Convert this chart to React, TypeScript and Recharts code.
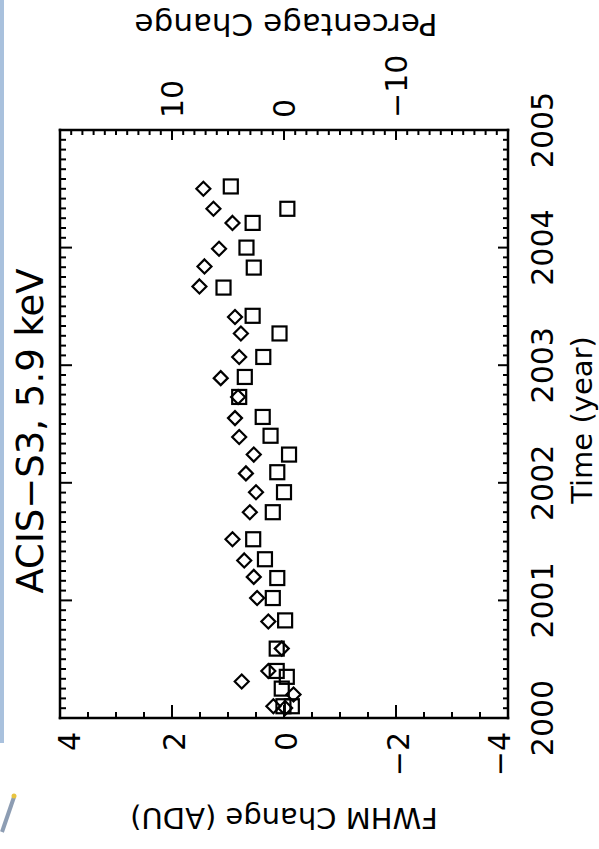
import { ScatterChart, Scatter, XAxis, YAxis } from "recharts";

// diamonds (first series)
const diamondTime = [
  2004.5, 2004.33, 2004.21, 2003.99, 2003.84, 2003.67, 2003.41, 2003.27, 2003.07,
  2002.89, 2002.73, 2002.55, 2002.39, 2002.24, 2002.08, 2001.92, 2001.75, 2001.52,
  2001.34, 2001.2, 2001.02, 2000.82, 2000.59, 2000.4, 2000.31, 2000.2, 2000.1, 2000.085,
];
const diamondFwhm = [
  1.44, 1.26, 0.92, 1.16, 1.42, 1.51, 0.875, 0.77, 0.8,
  1.13, 0.82, 0.875, 0.8, 0.54, 0.68, 0.5, 0.61, 0.92,
  0.71, 0.54, 0.48, 0.28, 0.04, 0.28, 0.755, -0.17, 0.19, -0.02,
];

// squares (second series)
const squareTime = [
  2004.52, 2004.33, 2004.21, 2004.0, 2003.83, 2003.66, 2003.42, 2003.27, 2003.07,
  2002.9, 2002.73, 2002.56, 2002.4, 2002.24, 2002.09, 2001.92, 2001.75, 2001.52,
  2001.35, 2001.19, 2001.02, 2000.83, 2000.59, 2000.4, 2000.35, 2000.25, 2000.1, 2000.1,
];
const squareFwhm = [
  0.95, -0.06, 0.56, 0.67, 0.54, 1.08, 0.56, 0.08, 0.37,
  0.7, 0.8, 0.38, 0.24, -0.09, 0.12, 0.0, 0.2, 0.55,
  0.34, 0.12, 0.2, -0.02, 0.13, 0.13, -0.05, 0.04, 0.01, -0.14,
];

const fwhmTicks = [-4, -3.5, -3, -2.5, -2, -1.5, -1, -0.5, 0, 0.5, 1, 1.5, 2, 2.5, 3, 3.5, 4];
const fwhmLabels = [-4, -2, 0, 2, 4];
const pctTicks = Array.from({ length: 41 }, (_, i) => i - 20);
const pctMajor = [-20, -10, 0, 10, 20];
const pctLabels = [-10, 0, 10];
const yearLabels = [2000, 2001, 2002, 2003, 2004, 2005];
const yearTicks = Array.from({ length: 61 }, (_, i) => 2000 + i / 12);

const W = 599;
const H = 849;
const LEFT_W = 60;
const RIGHT_W = 91;
const TOP_H = 130;
const BOTTOM_H = 131;
const PLOT_L = LEFT_W;
const PLOT_R = W - RIGHT_W;
const PLOT_T = TOP_H;
const PLOT_B = H - BOTTOM_H;

const FONT = "'DejaVu Sans', sans-serif";
const INK = "#000";

const near = (v: number, list: number[]) => list.some((l) => Math.abs(l - v) < 1e-6);
const fmt = (v: number) => (v < 0 ? "\u2212" + Math.abs(v) : String(v));

const diamonds = diamondTime.map((t, i) => ({ t, f: diamondFwhm[i] }));
const squares = squareTime.map((t, i) => ({ t, f: squareFwhm[i] }));

function FwhmTick({ x, y, payload }: any) {
  const v = payload.value;
  const major = near(v, fwhmLabels);
  const ty = y + 14;
  // end labels sit a little inside the frame, as in the original plot
  const lx = v === 4 ? x + 9 : v === -4 ? x - 9 : x + 2;
  return (
    <g>
      <line x1={x} y1={y} x2={x} y2={y - (major ? 13 : 6)} stroke={INK} strokeWidth={2} />
      {major && (
        <text
          x={lx}
          y={ty}
          dy="0.36em"
          transform={`rotate(-90 ${lx} ${ty})`}
          textAnchor="end"
          fontFamily={FONT}
          fontSize={30}
          fill={INK}
        >
          {fmt(v)}
        </text>
      )}
    </g>
  );
}

function PctTick({ x, y, payload }: any) {
  const v = payload.value;
  const major = near(v, pctMajor);
  const ty = y - 12;
  return (
    <g>
      <line x1={x} y1={y} x2={x} y2={y + (major ? 10 : 5)} stroke={INK} strokeWidth={2} />
      {near(v, pctLabels) && (
        <text
          x={x}
          y={ty}
          dy="0.36em"
          transform={`rotate(-90 ${x} ${ty})`}
          textAnchor="start"
          fontFamily={FONT}
          fontSize={30}
          fill={INK}
        >
          {fmt(v)}
        </text>
      )}
    </g>
  );
}

function YearTick({ x, y, payload }: any) {
  const v = payload.value;
  const major = near(v, yearLabels);
  const tx = x + 34;
  return (
    <g>
      <line x1={x} y1={y} x2={x - (major ? 10 : 5)} y2={y} stroke={INK} strokeWidth={2} />
      {major && (
        <text
          x={tx}
          y={y}
          dy="0.36em"
          transform={`rotate(-90 ${tx} ${y})`}
          textAnchor="middle"
          fontFamily={FONT}
          fontSize={30}
          fill={INK}
        >
          {Math.round(v)}
        </text>
      )}
    </g>
  );
}

function MirrorTick({ x, y, payload }: any) {
  const major = near(payload.value, yearLabels);
  return <line x1={x} y1={y} x2={x + (major ? 12 : 6)} y2={y} stroke={INK} strokeWidth={2} />;
}

function Title({ text, cx, cy, rot, size, spacing }: any) {
  return (
    <text
      x={cx}
      y={cy}
      dy="0.36em"
      transform={`rotate(${rot} ${cx} ${cy})`}
      textAnchor="middle"
      fontFamily={FONT}
      fontSize={size}
      letterSpacing={spacing}
      fill={INK}
    >
      {text}
    </text>
  );
}

const Diamond = ({ cx, cy }: any) => (
  <polygon
    points={`${cx},${cy - 7} ${cx + 7},${cy} ${cx},${cy + 7} ${cx - 7},${cy}`}
    fill="none"
    stroke={INK}
    strokeWidth={2.2}
  />
);

const Square = ({ cx, cy }: any) => (
  <rect x={cx - 7} y={cy - 7} width={14} height={14} fill="none" stroke={INK} strokeWidth={2.2} />
);

const Hidden = () => <g />;

const frame = { stroke: INK, strokeWidth: 2.5, strokeLinecap: "square" as const };
const midX = (PLOT_L + PLOT_R) / 2;
const midY = (PLOT_T + PLOT_B) / 2;

export default function App() {
  return (
    <div style={{ position: "absolute", left: 0, top: 0, width: W, height: H, background: "#fff" }}>
      <div style={{ position: "absolute", left: 0, top: 0, width: 4, height: 743, background: "#a9c1dd" }} />
      <svg style={{ position: "absolute", left: 0, top: 785 }} width={20} height={50}>
        <line x1={2} y1={47} x2={14} y2={12} stroke="#8d9db3" strokeWidth={4} />
        <circle cx={14} cy={11} r={2.5} fill="#e8c440" />
      </svg>
      <ScatterChart width={W} height={H} margin={{ top: 0, right: 0, bottom: 0, left: 0 }}>
        <XAxis
          xAxisId="fwhm"
          dataKey="f"
          type="number"
          orientation="bottom"
          domain={[-4, 4]}
          reversed
          ticks={fwhmTicks}
          interval={0}
          height={BOTTOM_H}
          tickSize={0}
          tickMargin={0}
          tickLine={false}
          axisLine={frame}
          tick={FwhmTick}
          label={{
            content: () => (
              <Title text="FWHM Change (ADU)" cx={midX} cy={818} rot={180} size={29} spacing={0} />
            ),
          }}
        />
        <XAxis
          xAxisId="pct"
          dataKey="f"
          type="number"
          orientation="top"
          domain={[-20, 20]}
          reversed
          ticks={pctTicks}
          interval={0}
          height={TOP_H}
          tickSize={0}
          tickMargin={0}
          tickLine={false}
          axisLine={frame}
          tick={PctTick}
          label={{
            content: () => (
              <Title text="Percentage Change" cx={midX + 2} cy={25} rot={180} size={31} spacing={0} />
            ),
          }}
        />
        <YAxis
          yAxisId="time"
          dataKey="t"
          type="number"
          orientation="right"
          domain={[2000, 2005]}
          ticks={yearTicks}
          interval={0}
          width={RIGHT_W}
          tickSize={0}
          tickMargin={0}
          tickLine={false}
          axisLine={frame}
          tick={YearTick}
          label={{
            content: () => (
              <Title text="Time (year)" cx={582} cy={midY - 4} rot={-90} size={29} spacing={0} />
            ),
          }}
        />
        <YAxis
          yAxisId="mirror"
          dataKey="t"
          type="number"
          orientation="left"
          domain={[2000, 2005]}
          ticks={yearTicks}
          interval={0}
          width={LEFT_W}
          tickSize={0}
          tickMargin={0}
          tickLine={false}
          axisLine={frame}
          tick={MirrorTick}
          label={{
            content: () => (
              <Title text={"ACIS\u2212S3, 5.9 keV"} cx={30} cy={midY + 7} rot={-90} size={37} spacing={0} />
            ),
          }}
        />
        {/* invisible copy so the percentage axis and the mirrored time axis get ticks */}
        <Scatter data={diamonds} xAxisId="pct" yAxisId="mirror" shape={Hidden} isAnimationActive={false} />
        <Scatter
          data={diamonds}
          xAxisId="fwhm"
          yAxisId="time"
          shape={Diamond}
          isAnimationActive={false}
        />
        <Scatter
          data={squares}
          xAxisId="fwhm"
          yAxisId="time"
          shape={Square}
          isAnimationActive={false}
        />
      </ScatterChart>
    </div>
  );
}
